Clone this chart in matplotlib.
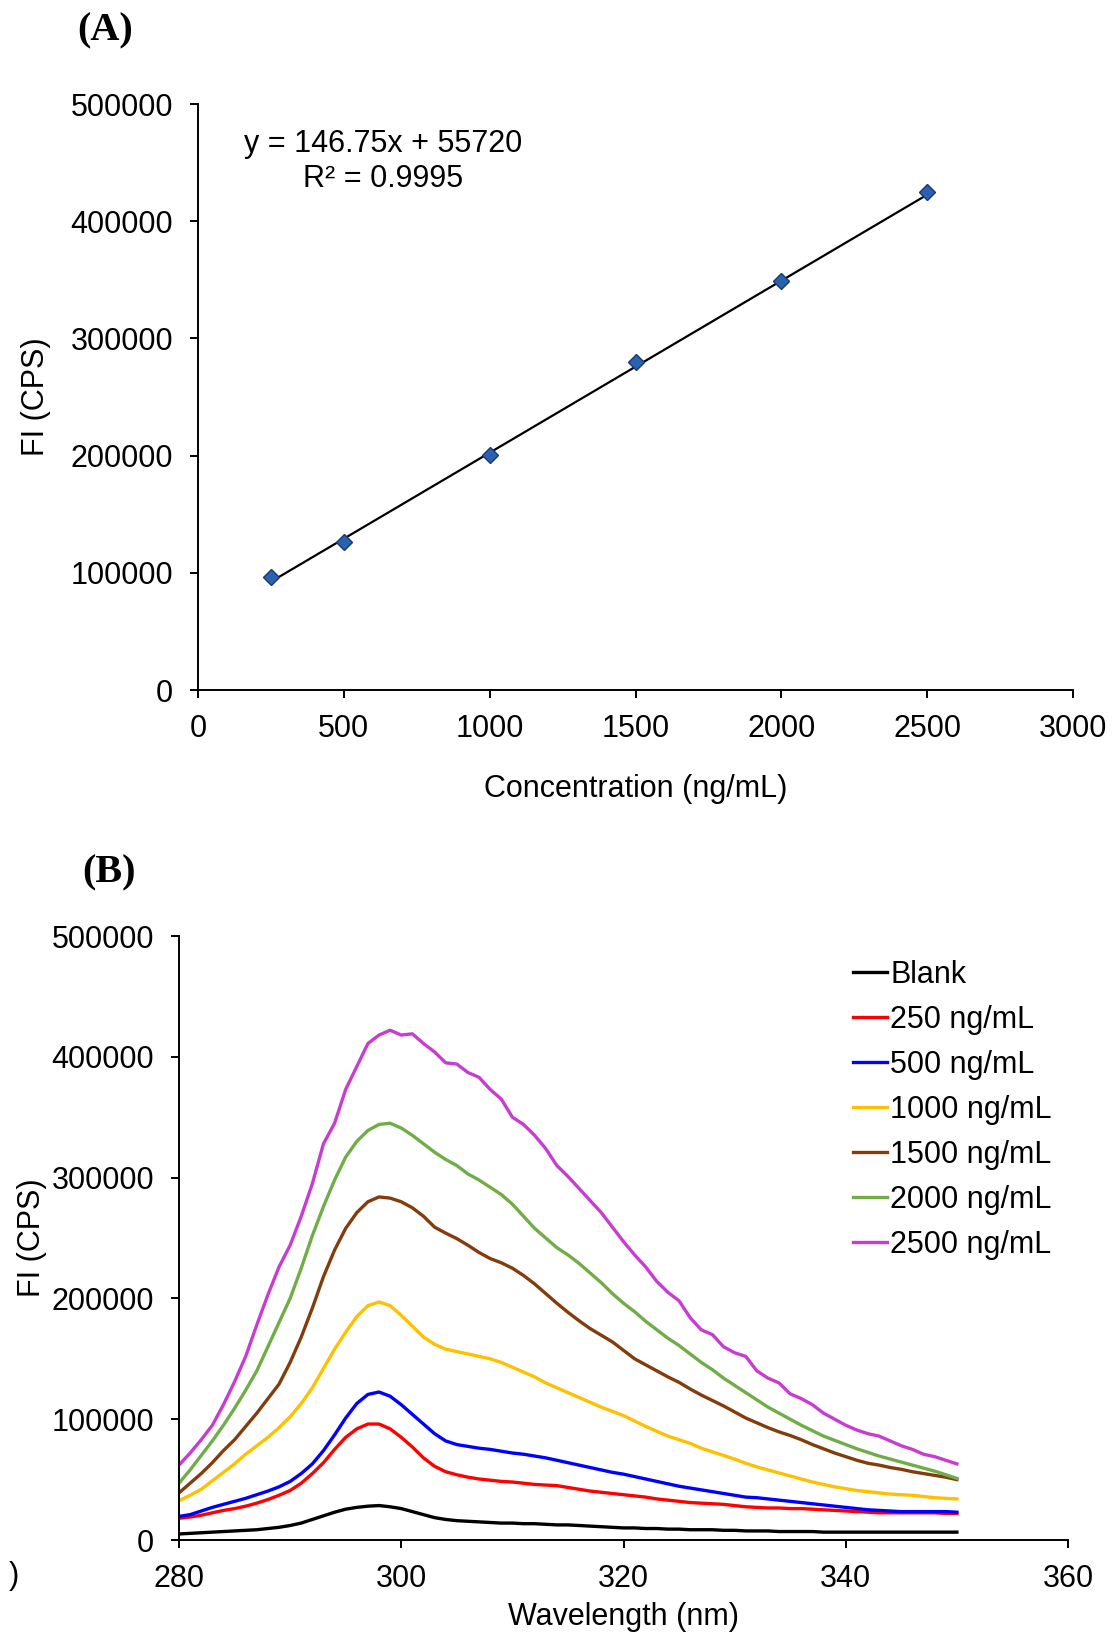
import numpy as np
import matplotlib
matplotlib.use('Agg')
import matplotlib.pyplot as plt

plt.rcParams['font.family'] = ['Liberation Sans', 'DejaVu Sans']

# (A) calibration points
conc = [250, 500, 1000, 1500, 2000, 2500]
fi_cal = [96000, 126500, 200500, 279500, 349000, 424500]
slope, intercept = 146.75, 55720

# (B) emission spectra, 280-350 nm in 1 nm steps (values in thousands of CPS)
wavelength = np.arange(280, 351)
blank = [5, 5.5, 6, 6.5, 7, 7.5, 8, 8.5, 9.5, 10.5, 12, 14, 17, 20, 23, 25.5, 27, 28, 28.5, 27.5,
         26, 23.5, 21, 18.5, 17, 16, 15.5, 15, 14.5, 14, 14, 13.5, 13.5, 13, 12.5, 12.5, 12, 11.5, 11, 10.5,
         10, 10, 9.5, 9.5, 9, 9, 8.5, 8.5, 8.5, 8, 8, 7.5, 7.5, 7.5, 7, 7, 7, 7, 6.5, 6.5,
         6.5, 6.5, 6.5, 6.5, 6.5, 6.5, 6.5, 6.5, 6.5, 6.5, 6.5]
c250 = [18, 19, 20.5, 22.5, 24.5, 26, 28, 30.5, 33.5, 37, 41, 47, 55, 64, 75, 85, 92, 96, 96, 92,
        85, 77, 68, 61, 56.5, 54, 52, 50.5, 49.5, 48.5, 48, 47, 46, 45.5, 45, 43.5, 42, 40.5, 39.5, 38.5,
        37.5, 36.5, 35.5, 34, 33, 32, 31, 30.5, 30, 29.5, 28.5, 27.5, 27, 26.5, 26.5, 26, 26, 25.5, 25, 24.5,
        24, 23.5, 23, 22.5, 22.5, 22.5, 22.5, 22.5, 22.5, 22, 22]
c500 = [19.5, 21, 24, 27, 29.5, 32, 34.5, 37.5, 40.5, 44, 48.5, 55, 63, 74, 87, 101, 113, 120.5, 122.5, 119,
        112, 104, 96, 88, 82, 79, 77.5, 76, 75, 73.5, 72, 71, 69.5, 68, 66, 64, 62, 60, 58, 56,
        54.5, 52.5, 50.5, 48.5, 46.5, 44.5, 43, 41.5, 40, 38.5, 37, 35.5, 35, 34, 33, 32, 31, 30, 29, 28,
        27, 26, 25, 24.5, 24, 23.5, 23.5, 23.5, 23.5, 23.5, 23]
c1000 = [32.5, 37, 42, 49, 56, 63, 71, 78, 85, 93, 102, 113, 126, 142, 158, 172, 185, 194, 197, 194,
         186, 177, 168, 162, 158, 156, 154, 152, 150, 147, 143, 139, 135, 130, 126, 122, 118, 114, 110, 106.5,
         103, 98.5, 94, 90, 86, 83, 80, 76, 73, 70, 67, 63.5, 60.5, 58, 55.5, 53, 50.5, 48, 46, 44,
         42.5, 41, 40, 39, 38, 37.5, 37, 36, 35, 34.5, 34]
c1500 = [39, 47, 55, 64, 74, 83, 94, 105, 117, 129, 147, 168, 192, 218, 240, 258, 271, 280, 284, 283,
         280, 275, 268, 259, 254, 249.5, 244, 238, 233, 229.5, 225, 219, 212, 204, 196, 188.5, 181.5, 175, 169.5, 164,
         157, 150, 145, 140, 135, 130.5, 125, 120, 115.5, 111, 106, 101, 97, 93, 89.5, 86.5, 83, 79, 75.5, 72,
         69, 66, 63.5, 62, 60, 58.5, 56.5, 55, 53.5, 52, 50]
c2000 = [47, 58, 70, 82, 95, 109, 124, 140, 160, 180, 200, 225, 252, 276, 298, 317, 330, 339, 344, 345,
         341, 335, 328, 321, 315, 310, 303, 298, 292, 286, 278, 268, 258, 250, 242, 236, 229, 221, 213, 204,
         196, 189, 181, 174, 167, 161, 154, 147, 141, 134, 128, 122, 116, 110, 105, 100, 95, 90.5, 86, 82.5,
         79, 75.5, 72.5, 69.5, 67, 64.5, 62, 59.5, 57, 54, 51]
c2500 = [62, 72, 83, 95, 112, 131, 152, 178, 203, 226, 244, 268, 295, 328, 345, 373, 392, 411, 418, 422,
         418, 419, 411, 404, 395, 394, 387, 383, 373, 365, 350, 344, 335, 324, 310, 301, 291, 281, 271, 259,
         247, 236, 226, 214, 205, 198, 184, 174, 170, 160, 155, 152, 140, 134, 130, 121, 117, 112, 105, 100,
         95, 91, 88, 86, 82, 78, 75, 71, 69, 66, 63]

labels = ['Blank', '250 ng/mL', '500 ng/mL', '1000 ng/mL', '1500 ng/mL', '2000 ng/mL', '2500 ng/mL']
spectra = [blank, c250, c500, c1000, c1500, c2000, c2500]
colors = ['#000000', '#ff0000', '#0000ff', '#ffc000', '#843c0c', '#70ad47', '#c83cd2']

W, H = 1112, 1634
fig = plt.figure(figsize=(W / 100, H / 100), dpi=100)
fs = 22


def style_axes(ax):
    for s in ['top', 'right']:
        ax.spines[s].set_visible(False)
    for s in ['left', 'bottom']:
        ax.spines[s].set_linewidth(1.4)
    ax.tick_params(direction='out', length=6, width=1.4, labelsize=fs)
    ax.tick_params(axis='x', pad=11)
    ax.tick_params(axis='y', pad=12)


# ---- (A) calibration curve
axA = fig.add_axes([198 / W, 1 - 690 / H, (1073 - 198) / W, (690 - 104) / H])
xfit = np.array([conc[0], conc[-1]])
axA.plot(xfit, slope * xfit + intercept, color='black', lw=1.6, zorder=2)
axA.plot(conc, fi_cal, 'D', ms=8.5, color='#2a62b0', mec='#173a70', mew=1, zorder=3)
axA.set_xlim(0, 3000)
axA.set_ylim(0, 500000)
axA.set_xticks(range(0, 3001, 500))
axA.set_yticks(range(0, 500001, 100000))
style_axes(axA)
axA.set_xlabel('Concentration (ng/mL)', fontsize=fs, labelpad=22)
axA.set_ylabel('FI (CPS)', fontsize=fs, labelpad=14)
axA.text(0.212, 0.932, f'y = {slope}x + {intercept}', transform=axA.transAxes,
         ha='center', va='center', fontsize=fs)
axA.text(0.212, 0.872, 'R² = 0.9995', transform=axA.transAxes,
         ha='center', va='center', fontsize=fs)

# ---- (B) spectra
axB = fig.add_axes([179 / W, 1 - 1540 / H, (1068 - 179) / W, (1540 - 936) / H])
for vals, lab, col in zip(spectra, labels, colors):
    axB.plot(wavelength, np.array(vals) * 1000, color=col, lw=2.4, label=lab)
axB.set_xlim(280, 360)
axB.set_ylim(0, 500000)
axB.set_xticks(range(280, 361, 20))
axB.set_yticks(range(0, 500001, 100000))
style_axes(axB)
axB.set_xlabel('Wavelength (nm)', fontsize=fs, labelpad=6)
axB.set_ylabel('FI (CPS)', fontsize=fs, labelpad=3)
axB.legend(loc='upper left', bbox_to_anchor=(853 / W, 1 - 960 / H), bbox_transform=fig.transFigure,
           frameon=False, fontsize=fs, handlelength=1.1, handletextpad=0.12,
           labelspacing=0.49, borderpad=0, borderaxespad=0)

# panel letters
fig.text(105 / W, 1 - 31 / H, '(A)', ha='center', va='center', fontsize=29,
         fontweight='bold', family='Liberation Serif')
fig.text(109 / W, 1 - 873 / H, '(B)', ha='center', va='center', fontsize=29,
         fontweight='bold', family='Liberation Serif')
fig.text(14 / W, 1 - 1576 / H, ')', ha='center', va='center', fontsize=fs)

fig.savefig('out.png', dpi=100)
